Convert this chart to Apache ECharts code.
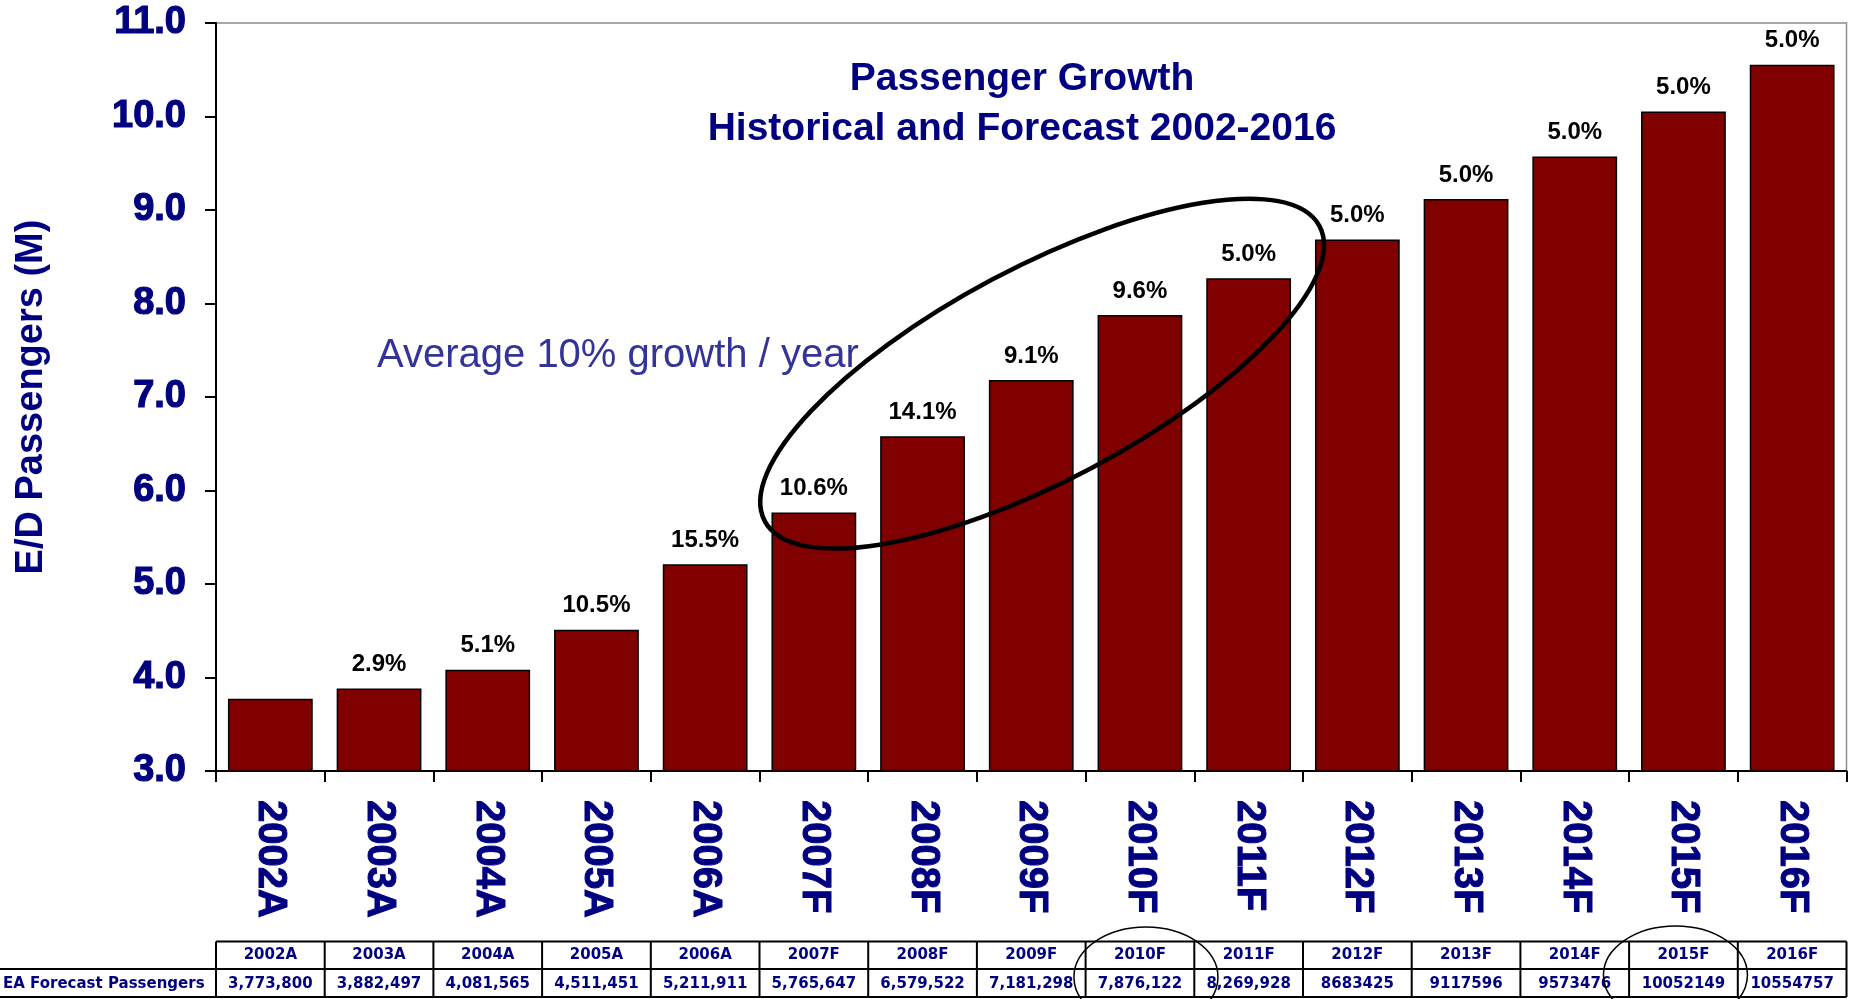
<!DOCTYPE html>
<html><head><meta charset="utf-8">
<script src="https://cdn.jsdelivr.net/npm/echarts@6/dist/echarts.min.js"></script>
<style>html,body{margin:0;padding:0;background:#fff}#chart{width:1852px;height:999px}</style>
</head><body><div id="chart"></div>
<script>
const categories = ['2002A','2003A','2004A','2005A','2006A','2007F','2008F','2009F','2010F','2011F','2012F','2013F','2014F','2015F','2016F'];
const passengers = [3773800, 3882497, 4081565, 4511451, 5211911, 5765647, 6579522, 7181298, 7876122, 8269928, 8683425, 9117596, 9573476, 10052149, 10554757];
const tableValues = ['3,773,800','3,882,497','4,081,565','4,511,451','5,211,911','5,765,647','6,579,522','7,181,298','7,876,122','8,269,928','8683425','9117596','9573476','10052149','10554757'];
const growth = [null, 2.9, 5.1, 10.5, 15.5, 10.6, 14.1, 9.1, 9.6, 5.0, 5.0, 5.0, 5.0, 5.0, 5.0];
const yMin = 3, yMax = 11, yStep = 1;
const titleLines = ['Passenger Growth', 'Historical and Forecast 2002-2016'];
const annotationText = 'Average 10% growth / year';
const yAxisName = 'E/D Passengers (M)';
const tableRowLabel = 'EA Forecast Passengers';

const NAVY = '#000080';
const FONT = '"Liberation Sans", Arial, sans-serif';
const TFONT = '"DejaVu Sans", sans-serif';
const barValues = passengers.map(v => v / 1e6);

const chart = echarts.init(document.getElementById('chart'), null, {renderer: 'canvas'});
const option = {
  backgroundColor: '#fff',
  animation: false,
  grid: {left: 216, right: 5.5, top: 23, bottom: 228, show: true, borderColor: '#8c8c8c', borderWidth: 1.5, containLabel: false},
  xAxis: {
    type: 'category', data: categories, boundaryGap: true,
    axisLine: {lineStyle: {color: '#000', width: 2}},
    axisTick: {show: true, alignWithLabel: false, length: 11, lineStyle: {color: '#000', width: 2}},
    axisLabel: {rotate: -90, margin: 29, color: NAVY, fontSize: 40, fontWeight: 'bold', fontFamily: FONT, interval: 0,
      textBorderColor: NAVY, textBorderWidth: 1}
  },
  yAxis: {
    type: 'value', min: yMin, max: yMax, interval: yStep,
    name: yAxisName, nameLocation: 'middle', nameRotate: 90, nameGap: 165,
    nameTextStyle: {color: NAVY, fontSize: 38, fontWeight: 'bold', fontFamily: FONT},
    axisLine: {show: true, lineStyle: {color: '#000', width: 2}},
    axisTick: {show: true, length: 11, lineStyle: {color: '#000', width: 2}},
    splitLine: {show: false},
    axisLabel: {margin: 30, color: NAVY, fontSize: 38, fontWeight: 'bold', fontFamily: FONT,
      textBorderColor: NAVY, textBorderWidth: 1.2,
      formatter: v => v.toFixed(1)}
  },
  series: [{
    type: 'bar', data: barValues, barCategoryGap: '22%',
    itemStyle: {color: '#800000', borderColor: '#000', borderWidth: 1.5},
    label: {show: true, position: 'top', distance: 12, color: '#000', fontSize: 24, fontWeight: 'bold', fontFamily: FONT,
      formatter: p => growth[p.dataIndex] == null ? '' : growth[p.dataIndex].toFixed(1) + '%'}
  }]
};
chart.setOption(option);

function px(i, v) { return chart.convertToPixel({gridIndex: 0}, [i, v]); }
const band = px(1, yMin)[0] - px(0, yMin)[0];
const leftX = px(0, yMin)[0] - band / 2;
const rightX = px(categories.length - 1, yMin)[0] + band / 2;

const g = [];
// title
g.push({type: 'text', x: 1022, y: 79, style: {text: titleLines[0], fill: NAVY, font: 'bold 39px ' + FONT, align: 'center', verticalAlign: 'middle'}});
g.push({type: 'text', x: 1022, y: 129, style: {text: titleLines[1], fill: NAVY, font: 'bold 39px ' + FONT, align: 'center', verticalAlign: 'middle'}});
// annotation
g.push({type: 'text', x: 377, y: 356, style: {text: annotationText, fill: '#333399', font: '40px ' + FONT, align: 'left', verticalAlign: 'middle'}});
// main ellipse around 2007-2011
const ec = px(7, 7.25);
g.push({type: 'ellipse', x: ec[0] + 0.1 * band, y: ec[1], rotation: 28 * Math.PI / 180,
  shape: {cx: 0, cy: 0, rx: 2.89 * band, ry: 0.98 * band}, style: {fill: null, stroke: '#000', lineWidth: 4.5}, z: 100});

// table
const rowTop = 941.5, rowMid = 969, rowBot = 997;
const lineStyle = {stroke: '#000', lineWidth: 2};
g.push({type: 'line', shape: {x1: leftX, y1: rowTop, x2: rightX, y2: rowTop}, style: lineStyle});
g.push({type: 'line', shape: {x1: 0, y1: rowMid, x2: rightX, y2: rowMid}, style: lineStyle});
g.push({type: 'line', shape: {x1: 0, y1: rowBot, x2: rightX, y2: rowBot}, style: lineStyle});
for (let i = 0; i <= categories.length; i++) {
  const x = leftX + i * band;
  g.push({type: 'line', shape: {x1: x, y1: rowTop, x2: x, y2: rowBot}, style: lineStyle});
}
categories.forEach((c, i) => {
  const x = px(i, yMin)[0];
  g.push({type: 'text', x: x, y: 955, style: {text: c, fill: NAVY, font: 'bold 15px ' + TFONT, align: 'center', verticalAlign: 'middle'}});
  g.push({type: 'text', x: x, y: 984, style: {text: tableValues[i], fill: NAVY, font: 'bold 15px ' + TFONT, align: 'center', verticalAlign: 'middle'}});
});
g.push({type: 'text', x: 3, y: 984, style: {text: tableRowLabel, fill: NAVY, font: 'bold 15px ' + TFONT, align: 'left', verticalAlign: 'middle'}});
// small ellipses in table
const c10 = categories.indexOf('2010F'), c15 = categories.indexOf('2015F');
g.push({type: 'ellipse', shape: {cx: px(c10, yMin)[0] + 6, cy: 977, rx: 72, ry: 50}, style: {fill: null, stroke: '#000', lineWidth: 1.5}, z: 100});
g.push({type: 'ellipse', shape: {cx: px(c15, yMin)[0] - 8, cy: 975, rx: 72, ry: 49}, style: {fill: null, stroke: '#000', lineWidth: 1.5}, z: 100});

chart.setOption({graphic: {elements: g}});
</script>
</body></html>
